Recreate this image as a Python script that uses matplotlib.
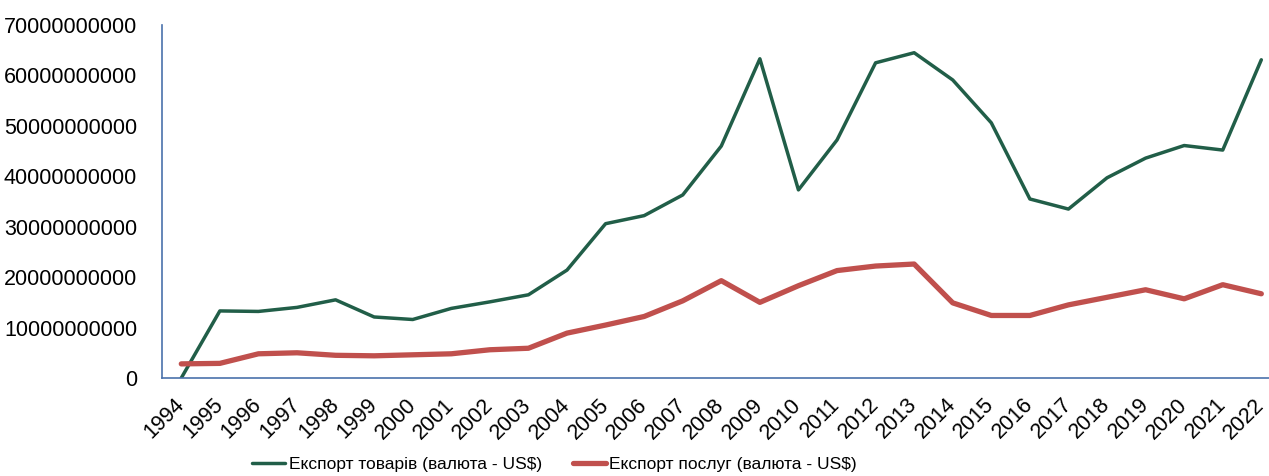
import matplotlib.pyplot as plt

years = [str(y) for y in range(1994, 2023)]

# Export of goods, US$
goods = [0.0e9, 13.3e9, 13.2e9, 14.0e9, 15.5e9, 12.1e9, 11.6e9, 13.8e9, 15.1e9, 16.5e9,
         21.4e9, 30.6e9, 32.2e9, 36.3e9, 46.0e9, 63.3e9, 37.3e9, 47.2e9, 62.5e9, 64.5e9,
         59.1e9, 50.6e9, 35.5e9, 33.5e9, 39.7e9, 43.6e9, 46.1e9, 45.2e9, 63.1e9]

# Export of services, US$
services = [2.8e9, 2.9e9, 4.8e9, 5.0e9, 4.5e9, 4.4e9, 4.6e9, 4.8e9, 5.6e9, 5.9e9,
            8.9e9, 10.5e9, 12.2e9, 15.3e9, 19.3e9, 15.0e9, 18.3e9, 21.3e9, 22.2e9, 22.6e9,
            14.9e9, 12.4e9, 12.4e9, 14.5e9, 16.0e9, 17.5e9, 15.7e9, 18.5e9, 16.7e9]

labels = ['Експорт товарів (валюта - US$)', 'Експорт послуг (валюта - US$)']

plt.rcParams['font.family'] = ['Liberation Sans', 'DejaVu Sans']

fig = plt.figure(figsize=(12.69, 4.76), dpi=100)
ax = fig.add_axes([162 / 1269, 98 / 476, 1118.6 / 1269, 353 / 476])

x = range(len(years))
ax.plot(x, goods, color='#215e48', lw=2.5, label=labels[0], solid_capstyle='round')
ax.plot(x, services, color='#c0504d', lw=3.8, label=labels[1], solid_capstyle='round')

ax.set_xlim(-0.5, len(years) - 0.5)
ax.set_ylim(0, 70e9)
ax.set_yticks([i * 10e9 for i in range(8)])
ax.set_yticklabels([f'{int(i * 10e9)}' for i in range(8)], fontsize=15.5)
ax.set_xticks(list(x))
ax.set_xticklabels(years, rotation=45, ha='right', va='center', rotation_mode='anchor',
                   fontsize=15.5)
ax.tick_params(axis='x', length=0, pad=17)
ax.tick_params(axis='y', length=0, pad=18)

for s in ['top', 'right']:
    ax.spines[s].set_visible(False)
for s in ['left', 'bottom']:
    ax.spines[s].set_color('#4a72ac')
    ax.spines[s].set_linewidth(1.2)

fig.legend(loc='center', bbox_to_anchor=(0.437, 0.024), ncol=2, frameon=False,
           prop={'size': 12.5}, handlelength=1.9, handletextpad=0.2,
           columnspacing=1.8)

fig.savefig('out.png', dpi=100)
